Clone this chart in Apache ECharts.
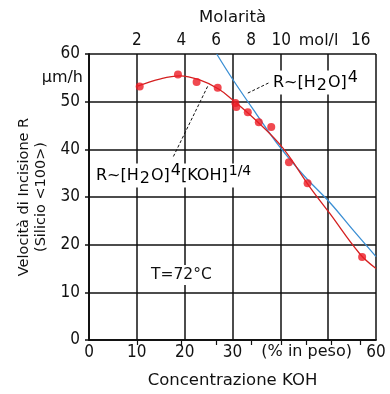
<!DOCTYPE html>
<html><head><meta charset="utf-8">
<script src="https://cdn.jsdelivr.net/npm/echarts@6/dist/echarts.min.js"></script>
<style>html,body{margin:0;padding:0;background:#fff}#c{width:390px;height:394px}</style>
</head><body><div id="c"></div>
<script>
// ---- data ----
const measuredKOH = [10.6, 18.6, 22.5, 26.9, 30.6, 30.8, 33.2, 35.5, 38.1, 41.8, 45.7, 57.1];
const measuredR   = [53.2, 55.7, 54.1, 52.9, 49.7, 48.9, 47.8, 45.7, 44.7, 37.3, 32.9, 17.4];
const fitKOH = [10, 15, 19, 23, 27, 30, 35, 40.5, 46.1, 50.3, 56.6, 60];
const fitR   = [53.2, 54.8, 55.4, 54.6, 52.7, 50.4, 46.0, 40.3, 32.2, 26.6, 18.1, 15.0];
const h2oKOH = [26.7, 30.1, 35, 39.8, 45, 50.3, 55, 60];
const h2oR   = [60.0, 54.6, 47.4, 40.6, 34.4, 28.9, 23.3, 17.5];
const bottomLabelPos = [0, 10, 20, 30, 45.5, 60];
const bottomLabelTxt = ['0', '10', '20', '30', '(% in peso)', '60'];
const molTickPos = [10, 19.3, 26.6, 33.9, 40.2, 45.4, 50.6, 56.8];
const molLabelPos = [10, 19.3, 26.6, 33.9, 40.2, 48, 56.8];
const molLabelTxt = ['2', '4', '6', '8', '10', 'mol/l', '16'];

const WORD = 'DejaVu Sans, Verdana, sans-serif';
const DIGIT = 'Liberation Sans Narrow, DejaVu Sans Condensed, sans-serif';
const chart = echarts.init(document.getElementById('c'));
function pick(pos, txt, v) {
  for (let i = 0; i < pos.length; i++) if (Math.abs(pos[i] - v) < 1e-6) return txt[i];
  return '';
}
function lab(pos, txt) {
  return v => {
    const t = pick(pos, txt, v);
    return /^[0-9]+$/.test(t) ? '{d|' + t + '}' : '{w|' + t + '}';
  };
}
const black = '#111';
const labRich = {
  d: {fontFamily: DIGIT, fontSize: 17, color: black},
  w: {fontFamily: WORD, fontSize: 16, color: black}
};
const rich = {
  b: {fontSize: 16, fontFamily: WORD, color: black, lineHeight: 24},
  sub: {fontSize: 16, fontFamily: WORD, color: black, lineHeight: 24, padding: [6, 1, 0, 1]},
  sup: {fontSize: 16, fontFamily: WORD, color: black, lineHeight: 24, padding: [0, 0, 9, 1]},
  sup2: {fontSize: 14, fontFamily: WORD, color: black, lineHeight: 24, padding: [0, 0, 9, 1]}
};
chart.setOption({
  animation: false,
  backgroundColor: '#fff',
  grid: {left: 89, top: 54, right: 14, bottom: 54, containLabel: false},
  xAxis: [{
    type: 'value', position: 'bottom', min: 0, max: 60, interval: 10,
    name: 'Concentrazione KOH', nameLocation: 'middle', nameGap: 32,
    nameTextStyle: {fontFamily: WORD, fontSize: 16.5, color: black},
    axisLine: {lineStyle: {color: black, width: 1.5}},
    axisTick: {show: false},
    splitLine: {show: true, lineStyle: {color: black, width: 1.5}},
    axisLabel: {customValues: bottomLabelPos, margin: 4, rich: labRich,
      formatter: lab(bottomLabelPos, bottomLabelTxt)}
  }, {
    type: 'value', position: 'top', min: 0, max: 60,
    name: 'Molarità', nameLocation: 'middle', nameGap: 28,
    nameTextStyle: {fontFamily: WORD, fontSize: 16.5, color: black},
    axisLine: {show: true, lineStyle: {color: black, width: 1.5}},
    axisTick: {show: true, inside: true, length: 5, customValues: molTickPos, lineStyle: {color: black, width: 1.2}},
    splitLine: {show: false},
    axisLabel: {customValues: molLabelPos, margin: 5, rich: labRich,
      formatter: lab(molLabelPos, molLabelTxt)}
  }],
  yAxis: [{
    type: 'value', min: 0, max: 60, interval: 10,
    name: 'Velocità di Incisione R\n(Silicio <100>)', nameLocation: 'middle', nameGap: 38, nameRotate: 90,
    nameTextStyle: {fontFamily: WORD, fontSize: 14.5, color: black, lineHeight: 17},
    axisLine: {show: true, lineStyle: {color: black, width: 1.5}},
    axisTick: {show: true, length: 4, lineStyle: {color: black, width: 1.5}},
    splitLine: {show: true, lineStyle: {color: black, width: 1.5}},
    axisLabel: {fontFamily: DIGIT, fontSize: 17, color: black, margin: 9}
  }, {
    type: 'value', min: 0, max: 60, position: 'right',
    axisLine: {show: true, lineStyle: {color: black, width: 1.5}},
    axisTick: {show: false}, axisLabel: {show: false}, splitLine: {show: false}
  }],
  series: [{
    type: 'line', data: h2oKOH.map((x, i) => [x, h2oR[i]]), smooth: 0.4, symbol: 'none',
    lineStyle: {color: '#3b8fd4', width: 1.3}, z: 3
  }, {
    type: 'line', data: fitKOH.map((x, i) => [x, fitR[i]]), smooth: 0.4, symbol: 'none',
    lineStyle: {color: '#d42020', width: 1.3}, z: 4,
    markLine: {silent: true, symbol: 'none', label: {show: false},
      lineStyle: {color: black, type: [3, 2], width: 1},
      data: [[{coord: [33.2, 51.8]}, {coord: [37.7, 54.0]}],
             [{coord: [24.8, 53.2]}, {coord: [17.5, 38.2]}]]}
  }, {
    type: 'scatter', data: measuredKOH.map((x, i) => [x, measuredR[i]]),
    symbol: 'circle', symbolSize: 8, itemStyle: {color: '#ec1c24'}, z: 5
  }],
  graphic: [
    {type: 'text', right: 307, top: 70, style: {text: 'μm/h', font: '16px ' + WORD, fill: black, align: 'right'}},
    {type: 'text', left: 273, top: 70, z: 10, style: {rich: rich, backgroundColor: '#fff',
      text: '{b|R~[H}{sub|2}{b|O]}{sup|4}'}},
    {type: 'text', left: 96, top: 163, z: 10, style: {rich: rich, backgroundColor: '#fff',
      text: '{b|R~[H}{sub|2}{b|O]}{sup|4}{b|[KOH]}{sup2|1/4}'}},
    {type: 'text', left: 150, top: 265, z: 10, style: {text: 'T=72°C', font: '15.5px ' + WORD, fill: black, backgroundColor: '#fff', padding: [2, 1]}}
  ]
});
</script></body></html>
